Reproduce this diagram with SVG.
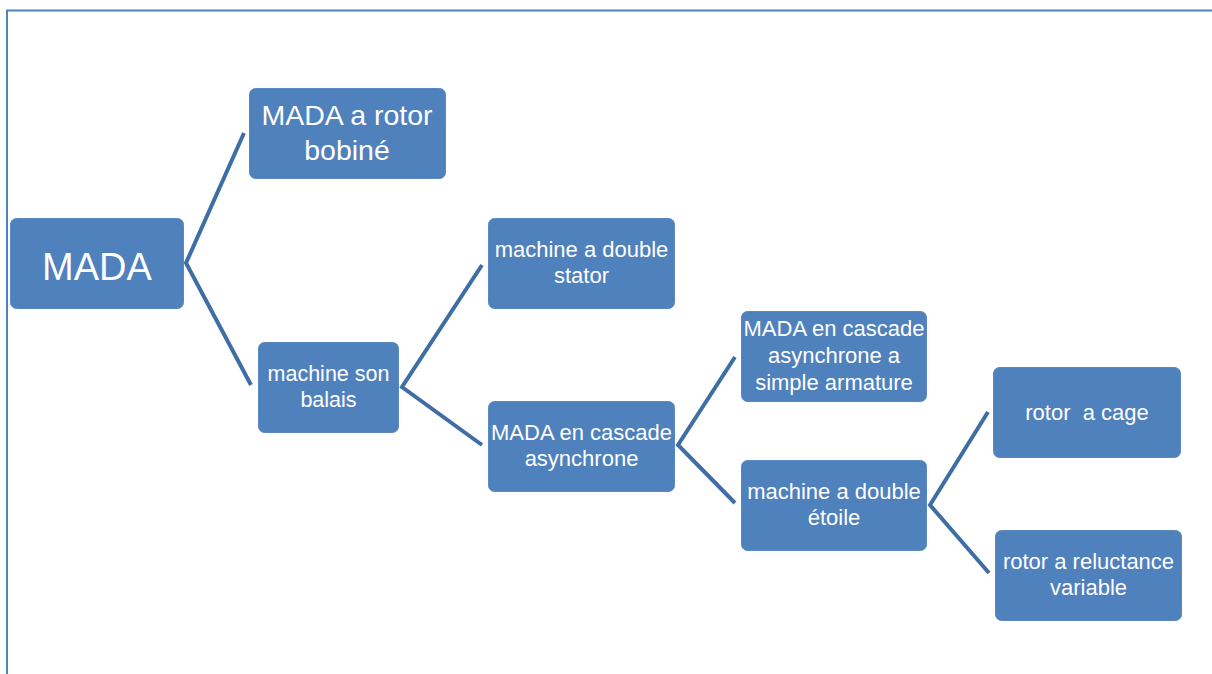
<svg xmlns="http://www.w3.org/2000/svg" width="1212" height="674" viewBox="0 0 1212 674">
<style>
.frame{fill:none;stroke:#4f81bd;stroke-width:2}
.box{fill:#4f81bd;stroke:#5a89c2;stroke-width:1}
.edge{fill:none;stroke:#3f6ea5;stroke-width:4;stroke-linejoin:miter}
.t{fill:#ffffff;font-family:"Liberation Sans",Arial,sans-serif;text-anchor:middle;white-space:pre}
.s22{font-size:22px}
</style>
<rect width="1212" height="674" fill="#ffffff"/>
<path class="frame" d="M7,674 V10.5 H1212"/>
<g id="connectors">
<path class="edge" d="M244,133 L186,263 L251,385"/>
<path class="edge" d="M482,265 L402,387 L482,445"/>
<path class="edge" d="M735,357 L678,445 L735,503"/>
<path class="edge" d="M988,412 L930,505 L989,573"/>
</g>
<g id="n-mada">
<rect class="box" x="10.5" y="218.5" width="173" height="90" rx="6"/>
<text class="t" x="97" y="280" font-size="38">MADA</text>
</g>
<g id="n-rotor-bobine">
<rect class="box" x="249.5" y="88.5" width="196" height="90" rx="6"/>
<text class="t" x="347" y="125" font-size="28.5">MADA a rotor</text>
<text class="t" x="347" y="160" font-size="28.5">bobiné</text>
</g>
<g id="n-sans-balais">
<rect class="box" x="258.5" y="342.5" width="140" height="90" rx="6"/>
<text class="t s22" x="328.5" y="381" style="font-size:21.5px">machine son</text>
<text class="t s22" x="328.5" y="407" style="font-size:21.5px">balais</text>
</g>
<g id="n-double-stator">
<rect class="box" x="488.5" y="218.5" width="186" height="90" rx="6"/>
<text class="t s22" x="581.5" y="257">machine a double</text>
<text class="t s22" x="581.5" y="283">stator</text>
</g>
<g id="n-cascade">
<rect class="box" x="488.5" y="401.5" width="186" height="90" rx="6"/>
<text class="t s22" x="581.5" y="440">MADA en cascade</text>
<text class="t s22" x="581.5" y="466">asynchrone</text>
</g>
<g id="n-simple-armature">
<rect class="box" x="741.5" y="311.5" width="185" height="90" rx="6"/>
<text class="t s22" x="834" y="336">MADA en cascade</text>
<text class="t s22" x="834" y="363">asynchrone a</text>
<text class="t s22" x="834" y="390">simple armature</text>
</g>
<g id="n-double-etoile">
<rect class="box" x="741.5" y="460.5" width="185" height="90" rx="6"/>
<text class="t s22" x="834" y="499">machine a double</text>
<text class="t s22" x="834" y="525">étoile</text>
</g>
<g id="n-rotor-cage">
<rect class="box" x="993.5" y="367.5" width="187" height="90" rx="6"/>
<text class="t s22" x="1087" y="420">rotor  a cage</text>
</g>
<g id="n-reluctance">
<rect class="box" x="995.5" y="530.5" width="186" height="90" rx="6"/>
<text class="t s22" x="1088.5" y="569">rotor a reluctance</text>
<text class="t s22" x="1088.5" y="595">variable</text>
</g>
</svg>
